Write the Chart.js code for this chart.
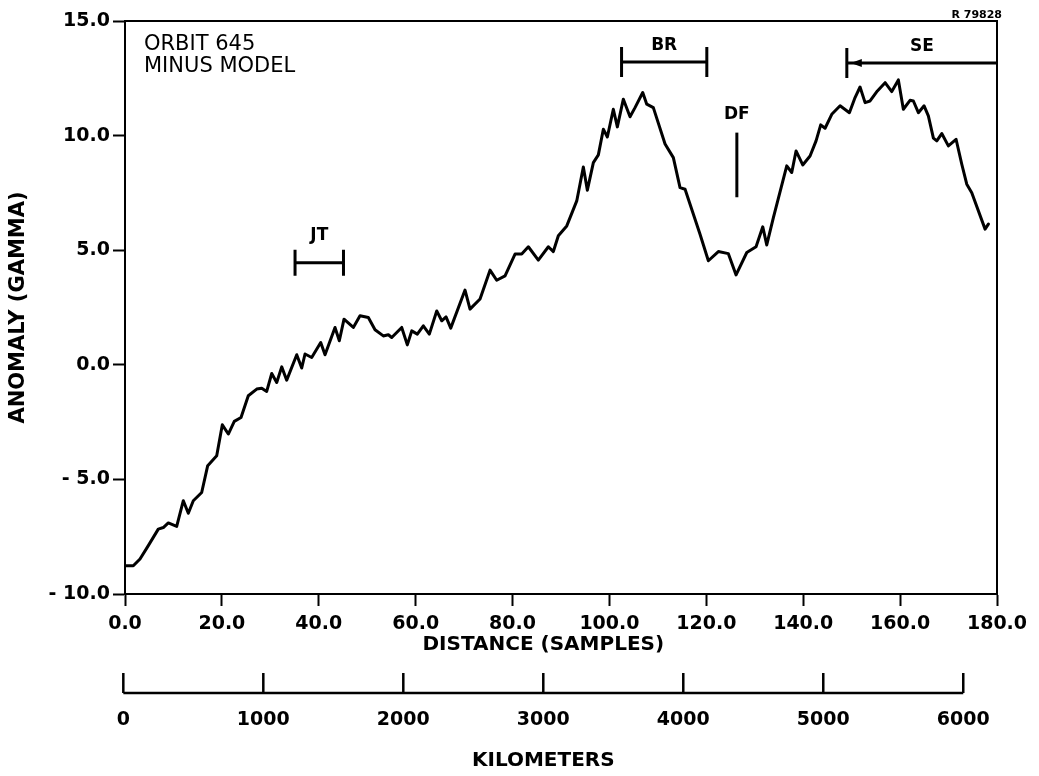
<!DOCTYPE html>
<html lang="en">
<head>
    <meta charset="UTF-8">
    <title>Orbit 645 minus model</title>
    <script src="https://cdn.jsdelivr.net/npm/chart.js"></script>
    <style>
        body { margin: 0; background: #fff; }
    </style>
</head>
<body>

<canvas id="anomaly-chart" width="1039" height="776"></canvas>

<script>
    // curve, grouped by stretch of the profile
    const sampleX = [
        0, 1.71, 3.10, 4.81, 6.87, 7.91, 8.94, 10.67, 12.04, 13.07,
        14.10, 15.83, 17.07, 18.93, 20.09, 21.33, 22.56, 23.95, 25.45, 27.19,
        28.22, 29.25, 30.29, 31.32, 32.35, 33.38, 35.45, 36.48, 37.16,
        38.54, 40.40, 41.29, 43.35, 44.24, 45.21, 47.13, 48.51, 50.23, 51.61,
        53.32, 54.36, 55.06, 57.12, 58.28, 59.19, 60.34, 61.58, 62.82, 64.35,
        65.38, 66.27, 67.24, 70.19, 71.22,
        73.29, 75.35, 76.73, 78.45, 80.51, 81.89, 83.26, 85.32, 87.39, 88.42,
        89.45, 91.19, 93.25, 94.61, 95.44, 96.68, 97.71, 98.74, 99.57, 100.80,
        101.63, 102.87, 104.25,
        105.28, 106.87, 107.70, 109.06, 111.48, 113.19, 114.57, 115.61, 118.70, 120.42,
        122.48, 124.55, 126.14, 128.35, 130.26, 131.65, 132.47, 133.84, 136.60, 137.63,
        138.52, 139.90,
        141.41, 142.65, 143.61, 144.51, 145.89, 147.61, 149.53, 150.70, 151.73, 152.77,
        153.80, 155.31, 156.90, 158.28, 159.64, 160.67, 162.05, 162.74, 163.77, 164.95,
        165.83, 166.87, 167.57, 168.60, 169.96, 171.55, 172.73, 173.76, 174.79, 177.54,
        178.22
    ];
    const anomaly = [
        -8.77, -8.77, -8.47, -7.89, -7.17, -7.10, -6.90, -7.05, -5.93, -6.48,
        -5.93, -5.57, -4.40, -3.97, -2.62, -3.02, -2.47, -2.30, -1.35, -1.06,
        -1.02, -1.16, -0.38, -0.77, -0.09, -0.67, 0.44, -0.14, 0.47,
        0.32, 0.97, 0.44, 1.63, 1.05, 1.99, 1.63, 2.14, 2.06, 1.53,
        1.26, 1.31, 1.19, 1.63, 0.87, 1.48, 1.34, 1.70, 1.34, 2.35,
        1.92, 2.09, 1.60, 3.26, 2.43,
        2.87, 4.13, 3.69, 3.88, 4.83, 4.83, 5.15, 4.57, 5.15, 4.94,
        5.63, 6.06, 7.15, 8.63, 7.62, 8.82, 9.16, 10.28, 9.94, 11.15,
        10.38, 11.59, 10.82,
        11.22, 11.88, 11.37, 11.22, 9.63, 9.04, 7.73, 7.66, 5.70, 4.54,
        4.94, 4.85, 3.92, 4.90, 5.15, 6.02, 5.23, 6.42, 8.68, 8.39,
        9.33, 8.72,
        9.11, 9.77, 10.47, 10.32, 10.93, 11.30, 11.00, 11.66, 12.12, 11.44,
        11.51, 11.95, 12.31, 11.92, 12.43, 11.15, 11.54, 11.51, 11.00, 11.30,
        10.86, 9.89, 9.77, 10.09, 9.55, 9.84, 8.75, 7.88, 7.51, 5.92,
        6.14
    ];

    const yTickLabels = ['- 10.0', '- 5.0', '0.0', '5.0', '10.0', '15.0'];
    const xTickLabels = ['0.0', '20.0', '40.0', '60.0', '80.0', '100.0', '120.0', '140.0', '160.0', '180.0'];
    const kmTicks = [0, 1000, 2000, 3000, 4000, 5000, 6000];

    // labelled intervals (samples) and the level they sit at (gamma)
    const markerNames = ['JT', 'BR', 'SE'];
    const markerFrom = [35.1, 102.5, 149.0];
    const markerTo = [45.1, 120.1, 180];
    const markerLevel = [4.45, 13.21, 13.17];
    const dfX = 126.3;
    const dfTop = 10.13;
    const dfBottom = 7.31;

    const tickFont = { family: 'DejaVu Sans', size: 19, weight: 'bold' };

    const decorPlugin = {
        id: 'decor',
        afterDatasetsDraw(chart) {
            const { ctx, chartArea: a, scales: { x, y, km } } = chart;
            ctx.save();
            ctx.strokeStyle = '#000';
            ctx.fillStyle = '#000';

            // frame
            ctx.lineWidth = 2;
            ctx.strokeRect(a.left, a.top, a.right - a.left, a.bottom - a.top);

            // interval brackets
            ctx.lineWidth = 3;
            ctx.font = 'bold 17px "DejaVu Sans"';
            ctx.textAlign = 'center';
            ctx.textBaseline = 'middle';
            markerNames.forEach((name, i) => {
                const x0 = x.getPixelForValue(markerFrom[i]);
                const x1 = x.getPixelForValue(markerTo[i]);
                const py = y.getPixelForValue(markerLevel[i]);
                const h = i === 0 ? 13 : 15;
                ctx.beginPath();
                ctx.moveTo(x0, py);
                ctx.lineTo(x1, py);
                ctx.moveTo(x0, py - h);
                ctx.lineTo(x0, py + h);
                if (markerTo[i] < 180) {
                    ctx.moveTo(x1, py - h);
                    ctx.lineTo(x1, py + h);
                }
                ctx.stroke();
                if (name === 'SE') {
                    ctx.beginPath();
                    ctx.moveTo(x0 + 4, py);
                    ctx.lineTo(x0 + 15, py - 4);
                    ctx.lineTo(x0 + 15, py + 4);
                    ctx.closePath();
                    ctx.fill();
                }
                ctx.fillText(name, (x0 + x1) / 2, py - (i === 0 ? 27 : 16));
            });

            // DF line
            const dx = x.getPixelForValue(dfX);
            const dTop = y.getPixelForValue(dfTop);
            ctx.beginPath();
            ctx.moveTo(dx, dTop);
            ctx.lineTo(dx, y.getPixelForValue(dfBottom));
            ctx.stroke();
            ctx.fillText('DF', dx, dTop - 18);

            // plot caption
            ctx.textAlign = 'left';
            ctx.textBaseline = 'alphabetic';
            ctx.font = '21px "DejaVu Sans"';
            ctx.fillText('ORBIT 645', a.left + 19, a.top + 29);
            ctx.fillText('MINUS MODEL', a.left + 19, a.top + 51);

            ctx.textAlign = 'right';
            ctx.font = 'bold 11px "DejaVu Sans"';
            ctx.fillText('R 79828', a.right + 5, 18);

            // kilometre ruler
            const kmLeft = km.getPixelForValue(kmTicks[0]);
            const kmRight = km.getPixelForValue(kmTicks[kmTicks.length - 1]);
            const rulerY = a.bottom + 99;
            ctx.lineWidth = 2.5;
            ctx.beginPath();
            ctx.moveTo(kmLeft, rulerY);
            ctx.lineTo(kmRight, rulerY);
            kmTicks.forEach(v => {
                const px = km.getPixelForValue(v);
                ctx.moveTo(px, rulerY);
                ctx.lineTo(px, rulerY - 20);
            });
            ctx.stroke();

            ctx.textAlign = 'center';
            ctx.textBaseline = 'middle';
            ctx.font = 'bold 19px "DejaVu Sans"';
            kmTicks.forEach(v => {
                ctx.fillText(String(v), km.getPixelForValue(v), rulerY + 27);
            });

            const mid = (kmLeft + kmRight) / 2;
            ctx.font = 'bold 20px "DejaVu Sans"';
            ctx.fillText('DISTANCE (SAMPLES)', mid, a.bottom + 51);
            ctx.fillText('KILOMETERS', mid, a.bottom + 167);
            ctx.restore();
        }
    };

    const ctx = document.getElementById('anomaly-chart').getContext('2d');
    new Chart(ctx, {
        type: 'line',
        data: {
            datasets: [{
                data: sampleX.map((v, i) => ({ x: v, y: anomaly[i] })),
                borderColor: '#000',
                borderWidth: 3,
                borderJoinStyle: 'round',
                borderCapStyle: 'round',
                pointRadius: 0,
                tension: 0,
                fill: false
            }]
        },
        options: {
            responsive: false,
            animation: false,
            layout: { padding: { top: 21, right: 42, left: 0, bottom: 0 } },
            plugins: {
                legend: { display: false },
                tooltip: { enabled: false }
            },
            scales: {
                x: {
                    type: 'linear',
                    min: 0,
                    max: 180,
                    ticks: {
                        stepSize: 20,
                        color: '#000',
                        font: tickFont,
                        padding: 7,
                        maxRotation: 0,
                        callback: (value, index) => xTickLabels[index]
                    },
                    grid: { drawOnChartArea: false, tickLength: 12, tickWidth: 2, tickColor: '#000' },
                    border: { color: '#000', width: 2 },
                    afterFit: scale => { scale.height = 182; }
                },
                km: {
                    type: 'linear',
                    axis: 'x',
                    position: 'bottom',
                    display: false,
                    min: 12,
                    max: 6241
                },
                y: {
                    min: -10,
                    max: 15,
                    ticks: {
                        stepSize: 5,
                        color: '#000',
                        font: tickFont,
                        padding: 3,
                        callback: (value, index) => yTickLabels[index]
                    },
                    grid: { drawOnChartArea: false, tickLength: 12, tickWidth: 2, tickColor: '#000' },
                    border: { color: '#000', width: 2 },
                    title: {
                        display: true,
                        text: 'ANOMALY (GAMMA)',
                        color: '#000',
                        font: { family: 'DejaVu Sans', size: 21, weight: 'bold' },
                        padding: { top: 6, bottom: 0 }
                    },
                    afterFit: scale => { scale.width = 125; }
                }
            }
        },
        plugins: [decorPlugin]
    });
</script>

</body>
</html>
